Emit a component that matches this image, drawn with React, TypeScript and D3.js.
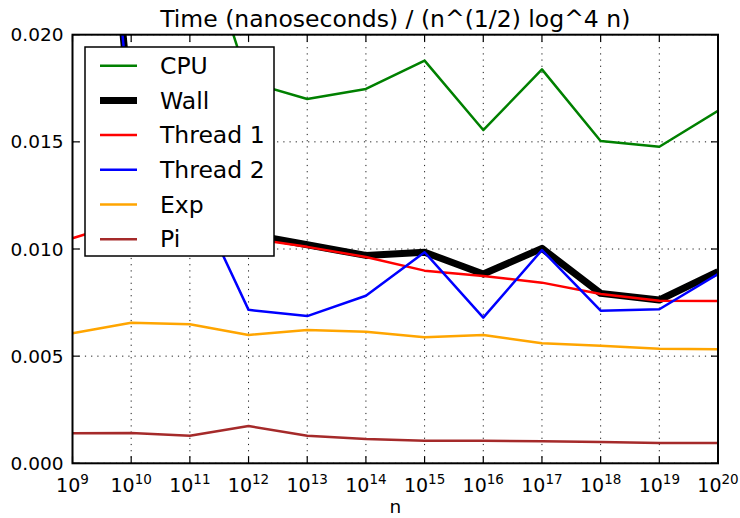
import React from 'react'
import * as d3 from 'd3'

// n = 10^9 .. 10^20
const exponents = [9, 10, 11, 12, 13, 14, 15, 16, 17, 18, 19, 20]
const cpu = [0.034, 0.030, 0.0263, 0.0178, 0.0170, 0.01747, 0.01879, 0.01555, 0.01838, 0.01504, 0.01477, 0.01645]
const wall = [0.045, 0.0160, 0.0125, 0.0107, 0.0102, 0.0097, 0.00985, 0.00883, 0.01003, 0.00793, 0.00762, 0.00894]
const thread1 = [0.0105, 0.01135, 0.0110, 0.0105, 0.0101, 0.00963, 0.00899, 0.00874, 0.00843, 0.0079, 0.00759, 0.00757]
const thread2 = [0.046, 0.0155, 0.0130, 0.00716, 0.00687, 0.00782, 0.00985, 0.0068, 0.00995, 0.00712, 0.00719, 0.00883]
const expT = [0.00607, 0.00656, 0.00649, 0.00599, 0.00622, 0.00614, 0.00588, 0.00599, 0.0056, 0.00549, 0.00535, 0.00532]
const piT = [0.0014, 0.00141, 0.00129, 0.00174, 0.00129, 0.00113, 0.00105, 0.00105, 0.00103, 0.00099, 0.00095, 0.00095]
const yTicks = [0, 0.005, 0.01, 0.015, 0.02]

const seriesNames = ['CPU', 'Wall', 'Thread 1', 'Thread 2', 'Exp', 'Pi']
const seriesValues = [cpu, wall, thread1, thread2, expT, piT]
const seriesColors = ['#008000', '#000000', '#ff0000', '#0000ff', '#ffa500', '#a52a2a']
const seriesWidths = [2.5, 7, 2.5, 2.5, 2.5, 2.5]

const W = 740
const H = 518
const left = 72.5
const right = 718
const top = 34.7
const bottom = 463.3
const font = '"DejaVu Sans", sans-serif'

export default function App() {
    const x = d3.scaleLog().domain([1e9, 1e20]).range([left, right])
    const y = d3.scaleLinear().domain([0, 0.02]).range([bottom, top])

    const line = d3
        .line<[number, number]>()
        .x((d) => x(Math.pow(10, d[0])))
        .y((d) => y(d[1]))

    const xs = exponents.map((e) => x(Math.pow(10, e)))

    return (
        <svg width={W} height={H} style={{ position: 'absolute', left: 0, top: 0, background: '#fff' }}
            fontFamily={font}>
            <defs>
                <clipPath id="plot">
                    <rect x={left} y={top} width={right - left} height={bottom - top} />
                </clipPath>
            </defs>

            {/* grid */}
            {xs.map((px, i) => (
                <line key={'gx' + i} x1={px} x2={px} y1={top} y2={bottom}
                    stroke="#000" strokeWidth={0.9} strokeDasharray="1.2,5" />
            ))}
            {yTicks.map((t, i) => (
                <line key={'gy' + i} x1={left} x2={right} y1={y(t)} y2={y(t)}
                    stroke="#000" strokeWidth={0.9} strokeDasharray="1.2,5" />
            ))}

            {/* series */}
            <g clipPath="url(#plot)">
                {seriesValues.map((vals, i) => (
                    <path key={'s' + i}
                        d={line(exponents.map((e, j) => [e, vals[j]] as [number, number])) || ''}
                        fill="none" stroke={seriesColors[i]} strokeWidth={seriesWidths[i]}
                        strokeLinejoin="round" />
                ))}
            </g>

            {/* ticks, all four sides pointing in */}
            {xs.map((px, i) => (
                <g key={'tx' + i}>
                    <line x1={px} x2={px} y1={bottom} y2={bottom - 7} stroke="#000" strokeWidth={1.2} />
                    <line x1={px} x2={px} y1={top} y2={top + 7} stroke="#000" strokeWidth={1.2} />
                    <text x={px} y={491.7} textAnchor="middle" fontSize={19} fill="#000">
                        10<tspan dy={-7.5} fontSize={13.5}>{exponents[i]}</tspan>
                    </text>
                </g>
            ))}
            {yTicks.map((t, i) => (
                <g key={'ty' + i}>
                    <line x1={left} x2={left + 7} y1={y(t)} y2={y(t)} stroke="#000" strokeWidth={1.2} />
                    <line x1={right} x2={right - 7} y1={y(t)} y2={y(t)} stroke="#000" strokeWidth={1.2} />
                    <text x={63.5} y={y(t) + 6.6} textAnchor="end" fontSize={18.5} fill="#000">
                        {d3.format('.3f')(t)}
                    </text>
                </g>
            ))}

            <rect x={left} y={top} width={right - left} height={bottom - top}
                fill="none" stroke="#000" strokeWidth={2} />

            <text x={(left + right) / 2} y={26.5} textAnchor="middle" fontSize={23.5} fill="#000">
                Time (nanoseconds) / (n^(1/2) log^4 n)
            </text>
            <text x={(left + right) / 2} y={513} textAnchor="middle" fontSize={18.5} fill="#000">n</text>

            {/* legend */}
            <rect x={85} y={47} width={189} height={209} fill="#fff" stroke="#000" strokeWidth={1.5} />
            {seriesNames.map((name, i) => {
                const ly = 65.7 + i * 34.7
                return (
                    <g key={'lg' + i}>
                        <line x1={100} x2={137} y1={ly} y2={ly} stroke={seriesColors[i]} strokeWidth={seriesWidths[i]} />
                        <text x={160} y={ly + 8.2} fontSize={23.5} fill="#000">{name}</text>
                    </g>
                )
            })}
        </svg>
    )
}
